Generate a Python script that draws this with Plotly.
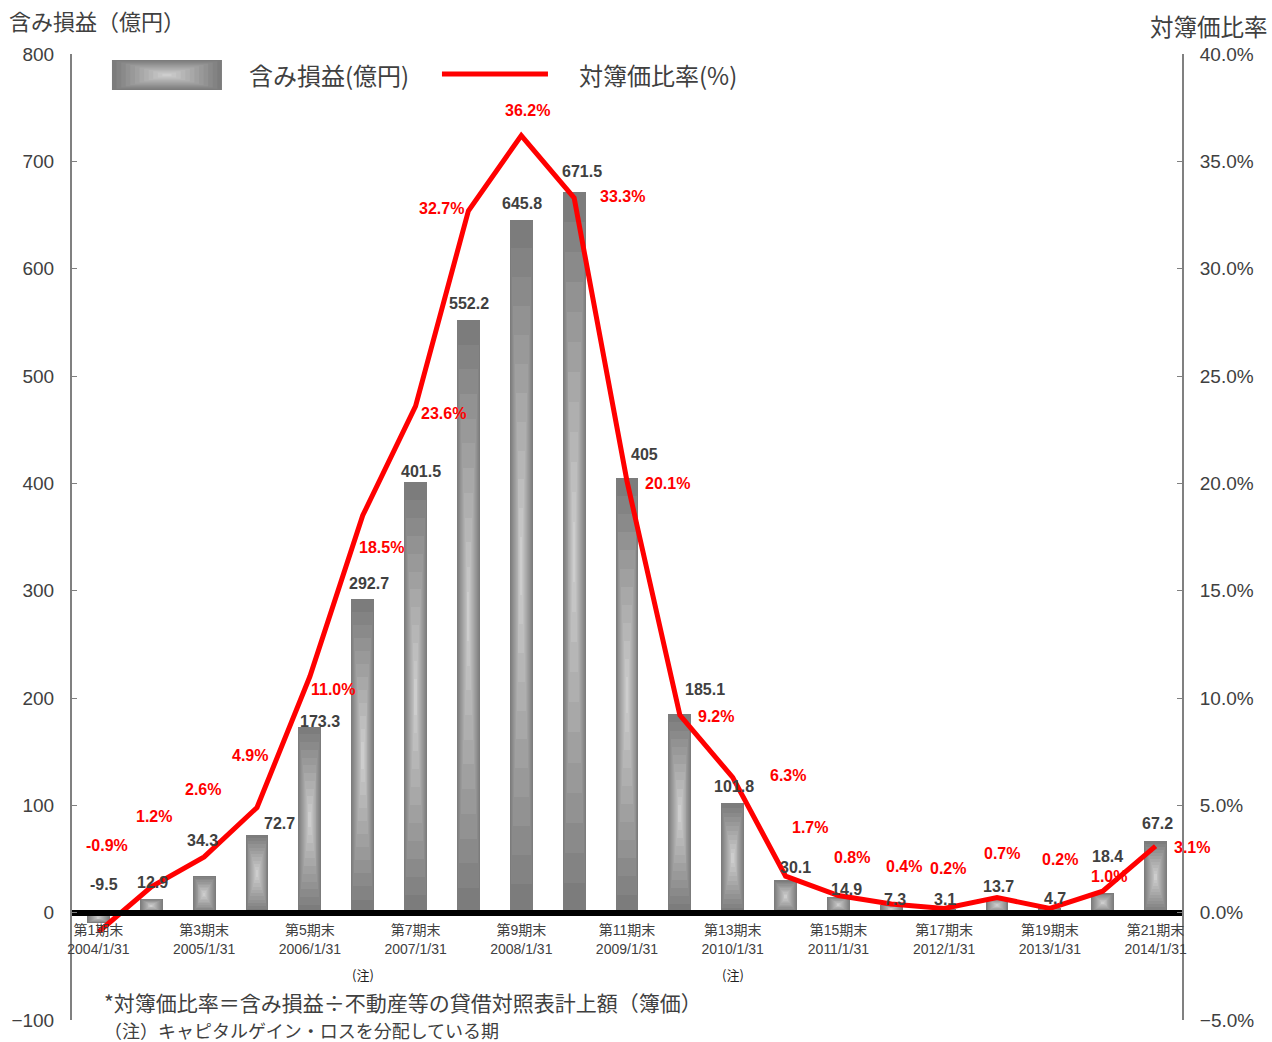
import plotly.graph_objects as go

# ---- data ----
periods = list(range(1, 22))
period_labels = ["第1期末", "第3期末", "第5期末", "第7期末", "第9期末", "第11期末",
                 "第13期末", "第15期末", "第17期末", "第19期末", "第21期末"]
period_dates = ["2004/1/31", "2005/1/31", "2006/1/31", "2007/1/31", "2008/1/31",
                "2009/1/31", "2010/1/31", "2011/1/31", "2012/1/31", "2013/1/31", "2014/1/31"]
label_periods = [1, 3, 5, 7, 9, 11, 13, 15, 17, 19, 21]
gain = [-9.5, 12.9, 34.3, 72.7, 173.3, 292.7, 401.5, 552.2, 645.8, 671.5, 405,
        185.1, 101.8, 30.1, 14.9, 7.3, 3.1, 13.7, 4.7, 18.4, 67.2]
ratio = [-0.9, 1.2, 2.6, 4.9, 11.0, 18.5, 23.6, 32.7, 36.2, 33.3, 20.1,
         9.2, 6.3, 1.7, 0.8, 0.4, 0.2, 0.7, 0.2, 1.0, 3.1]
note_periods = [6, 13]

# ---- label placement (pixel offsets, style only) ----
gain_off = [(6, -28), (1, -16), (-2, -35), (22, -11), (10, -5), (6, -15), (5, -10), (1, -16),
            (1, -16), (8, -20), (17, -23), (25, -24), (1, -17), (10, -13), (8, -7), (4, -5),
            (1, -10), (1, -11), (5, -9), (5, -36), (2, -17)]
ratio_off = [(9, -86), (3, -70), (-1, -67), (-7, -52), (23, 13), (19, 32), (28, 7), (-27, -2),
             (6, -25), (48, -1), (40, 2), (36, 1), (55, -2), (24, -49), (14, -38), (13, -38),
             (4, -40), (5, -44), (10, -49), (6, -15), (36, 1)]

FONT = "Liberation Sans, Arial, Noto Sans CJK JP, sans-serif"
JFONT = "Noto Sans CJK JP, Liberation Sans, sans-serif"
TXT = "#404040"

fig = go.Figure()

# pillow-gradient bars built from stacked scaled rectangles
N = 12
BW = 0.43
c0, c1 = 124, 205
for k in range(N):
    s = 1 - k / N
    c = int(c0 + (c1 - c0) * (k / (N - 1)))
    fig.add_trace(go.Bar(
        x=periods,
        y=[v * s for v in gain],
        base=[v * (1 - s) / 2 for v in gain],
        width=BW * s,
        marker=dict(color=f"rgb({c},{c},{c})", line=dict(width=0)),
        showlegend=False, hoverinfo="skip", yaxis="y",
    ))

fig.add_trace(go.Scatter(
    x=periods, y=ratio, mode="lines", yaxis="y2",
    line=dict(color="#ff0000", width=5), showlegend=False,
))

ann = []
for i, v in enumerate(gain):
    dx, dy = gain_off[i]
    ann.append(dict(x=periods[i], y=max(v, 0), xref="x", yref="y", text=f"{v:g}",
                    showarrow=False, xshift=dx, yshift=-dy,
                    font=dict(family=FONT, size=16, color=TXT, weight="bold")))
for i, r in enumerate(ratio):
    dx, dy = ratio_off[i]
    ann.append(dict(x=periods[i], y=r, xref="x", yref="y2", text=f"{r:.1f}%",
                    showarrow=False, xshift=dx, yshift=-dy,
                    font=dict(family=FONT, size=16, color="#ff0000", weight="bold")))
for p in note_periods:
    ann.append(dict(x=p, y=0.0466, xref="x", yref="paper", text="(注)", showarrow=False,
                    yanchor="middle",
                    font=dict(family=JFONT, size=13, color="#222222")))

# axis titles
ann.append(dict(x=-0.0586, y=1.0352, xref="paper", yref="paper", text="含み損益（億円）",
                showarrow=False, xanchor="left", yanchor="middle",
                font=dict(family=JFONT, size=22, color=TXT)))
ann.append(dict(x=1.0795, y=1.0285, xref="paper", yref="paper", text="対簿価比率",
                showarrow=False, xanchor="right", yanchor="middle",
                font=dict(family=JFONT, size=23.5, color=TXT)))
# footnotes
ann.append(dict(x=0.0270, y=0.0186, xref="paper", yref="paper",
                text="*対簿価比率＝含み損益÷不動産等の貸借対照表計上額（簿価）",
                showarrow=False, xanchor="left", yanchor="middle",
                font=dict(family=JFONT, size=21, color=TXT)))
ann.append(dict(x=0.0270, y=-0.0105, xref="paper", yref="paper",
                text="（注）キャピタルゲイン・ロスを分配している期",
                showarrow=False, xanchor="left", yanchor="middle",
                font=dict(family=JFONT, size=18, color=TXT)))
# legend texts
ann.append(dict(x=0.1577, y=0.9783, xref="paper", yref="paper", text="含み損益(億円)",
                showarrow=False, xanchor="left", yanchor="middle",
                font=dict(family=JFONT, size=24, color=TXT)))
ann.append(dict(x=0.4550, y=0.9783, xref="paper", yref="paper", text="対簿価比率(%)",
                showarrow=False, xanchor="left", yanchor="middle",
                font=dict(family=JFONT, size=24, color=TXT)))

# legend swatches
shapes = []
lx0, lx1, ly0, ly1 = 0.036, 0.1351, 0.9627, 0.9938
cx, cy = (lx0 + lx1) / 2, (ly0 + ly1) / 2
for k in range(N):
    s = 1 - k / N
    c = int(c0 + (c1 - c0) * (k / (N - 1)))
    shapes.append(dict(type="rect", xref="paper", yref="paper",
                       x0=cx - (cx - lx0) * s, x1=cx + (cx - lx0) * s,
                       y0=cy - (cy - ly0) * s, y1=cy + (cy - ly0) * s,
                       fillcolor=f"rgb({c},{c},{c})", line=dict(width=0)))
shapes.append(dict(type="line", xref="paper", yref="paper", x0=0.3333, x1=0.4288,
                   y0=0.9793, y1=0.9793, line=dict(color="#ff0000", width=5)))

ticktext = [f"{a}<br>{b}" for a, b in zip(period_labels, period_dates)]

fig.update_layout(
    width=1272, height=1042,
    margin=dict(l=72, r=90, t=54, b=22),
    paper_bgcolor="white", plot_bgcolor="white",
    barmode="overlay", bargap=0,
    showlegend=False,
    annotations=ann, shapes=shapes,
    font=dict(family=FONT, color=TXT),
    xaxis=dict(range=[0.5, 21.5], tickvals=label_periods, ticktext=ticktext,
               anchor="free", position=1 / 9, showline=True, linecolor="black",
               linewidth=6, ticks="", showgrid=False, zeroline=False,
               ticklabelstandoff=3,
               tickfont=dict(family=FONT, size=14, color=TXT)),
    yaxis=dict(range=[-100, 800], dtick=100, ticks="inside", ticklen=5,
               tickcolor="#808080", showline=True, linecolor="#808080", linewidth=2,
               showgrid=False, zeroline=False, ticklabelstandoff=12,
               tickfont=dict(family=FONT, size=19, color=TXT)),
    yaxis2=dict(range=[-5, 40], dtick=5, tickformat=".1f", ticksuffix="%",
                overlaying="y", side="right", ticks="inside", ticklen=5,
                tickcolor="#808080", showline=True, linecolor="#808080", linewidth=2,
                showgrid=False, zeroline=False, ticklabelstandoff=12,
                tickfont=dict(family=FONT, size=19, color=TXT)),
)

fig.write_html("out.html")
